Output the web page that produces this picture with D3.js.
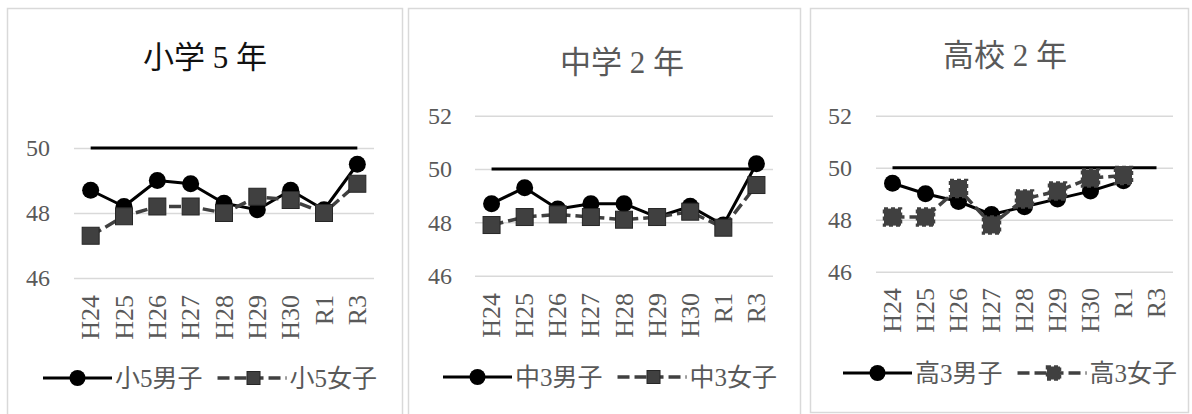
<!DOCTYPE html>
<html><head><meta charset="utf-8">
<script src="https://cdn.jsdelivr.net/npm/d3@7"></script>
<style>
html,body{margin:0;padding:0;background:#fff;}
svg{display:block;}
text{font-family:"Liberation Serif","Noto Sans CJK JP",serif;}
</style></head>
<body>
<svg id="c" width="1192" height="414"></svg>
<script>
// ---- data ----
const categories = ["H24","H25","H26","H27","H28","H29","H30","R1","R3"];
const titles = ["小学 5 年", "中学 2 年", "高校 2 年"];
const boyNames = ["小5男子", "中3男子", "高3男子"];
const girlNames = ["小5女子", "中3女子", "高3女子"];
const elemBoys  = [48.7, 48.2, 49.0, 48.9, 48.3, 48.1, 48.7, 48.1, 49.5];
const elemGirls = [47.3, 47.9, 48.2, 48.2, 48.0, 48.5, 48.4, 48.0, 48.9];
const midBoys   = [48.7, 49.3, 48.5, 48.7, 48.7, 48.2, 48.6, 47.9, 50.2];
const midGirls  = [47.9, 48.2, 48.3, 48.2, 48.1, 48.2, 48.4, 47.8, 49.4];
const highBoys  = [49.4, 49.0, 48.7, 48.2, 48.5, 48.8, 49.1, 49.5, null];
const highGirls = [48.1, 48.1, 49.2, 47.8, 48.8, 49.1, 49.6, 49.7, null];
const nationalAvg = [50, 50, 50, 50, 50, 50, 50, 50, 50];
const ticksElem = [46, 48, 50];
const ticksOther = [46, 48, 50, 52];

// ---- layout ----
const layout = [
  {bx0:7,  bx1:402,  by0:8, by1:430, px0:74,  px1:374,  yTop:148,   yBot:278,   dom:[46,50], ticks:ticksElem, labRight:50,  xLabTop:295,
   titleX:205, titleY:57, titleColor:"#111", legY:378, legX:43, boys:elemBoys, girls:elemGirls, dashedMarker:false},
  {bx0:408,bx1:800,  by0:8, by1:430, px0:475, px1:773,  yTop:115.7, yBot:275.7, dom:[46,52], ticks:ticksOther, labRight:452, xLabTop:293,
   titleX:622, titleY:62, titleColor:"#595959", legY:377, legX:443, boys:midBoys, girls:midGirls, dashedMarker:false},
  {bx0:810,bx1:1188, by0:8, by1:412, px0:876, px1:1173, yTop:115.7, yBot:271.7, dom:[46,52], ticks:ticksOther, labRight:852, xLabTop:288,
   titleX:1005, titleY:55, titleColor:"#595959", legY:373, legX:843, boys:highBoys, girls:highGirls, dashedMarker:true}
];

const svg = d3.select("#c");
const GRAY = "#595959", GIRL = "#404040";

function squareMarker(g, x, y, s, dashed){
  g.append("rect").attr("x", x - s/2).attr("y", y - s/2).attr("width", s).attr("height", s)
    .attr("fill", GIRL).attr("stroke", dashed ? GIRL : "#262626")
    .attr("stroke-width", dashed ? 2.5 : 1)
    .attr("stroke-dasharray", dashed ? "4,3" : null);
}

layout.forEach((L, i) => {
  const g = svg.append("g");
  // border
  g.append("rect").attr("x", L.bx0 + 0.5).attr("y", L.by0 + 0.5)
    .attr("width", L.bx1 - L.bx0).attr("height", L.by1 - L.by0)
    .attr("fill", "#fff").attr("stroke", "#d9d9d9").attr("stroke-width", 1.5);

  const x = d3.scaleBand().domain(categories).range([L.px0, L.px1]);
  const y = d3.scaleLinear().domain(L.dom).range([L.yBot, L.yTop]);
  const cx = c => x(c) + x.bandwidth()/2;

  // title
  g.append("text").attr("x", L.titleX).attr("y", L.titleY).attr("dy", "0.36em")
    .attr("text-anchor", "middle").attr("font-size", 31).attr("fill", L.titleColor).text(titles[i]);

  // gridlines + y tick labels
  const yAxis = d3.axisLeft(y).tickValues(L.ticks).tickFormat(d3.format("d"))
    .tickSize(-(L.px1 - L.px0)).tickPadding(L.px0 - L.labRight);
  const ya = g.append("g").attr("transform", `translate(${L.px0},0)`).call(yAxis);
  ya.select(".domain").remove();
  ya.selectAll(".tick line").attr("stroke", "#d9d9d9").attr("stroke-width", 1.5);
  ya.selectAll(".tick text").attr("font-size", 24).attr("fill", GRAY)
    .attr("font-family", "Liberation Serif, serif");

  // x axis labels (rotated)
  const xAxis = d3.axisBottom(x).tickSize(0).tickPadding(0);
  const xa = g.append("g").attr("transform", `translate(0,${L.xLabTop})`).call(xAxis);
  xa.select(".domain").remove();
  xa.selectAll(".tick text").attr("font-size", 26).attr("fill", GRAY)
    .attr("font-family", "Liberation Serif, serif")
    .attr("transform", "rotate(-90)").attr("text-anchor", "end")
    .attr("x", 0).attr("y", 0).attr("dy", "0.33em");

  const line = d3.line().defined(d => d.v != null).x(d => cx(d.c)).y(d => y(d.v));
  const pts = arr => categories.map((c, k) => ({c, v: arr[k]}));

  // national average line
  g.append("path").datum(pts(nationalAvg)).attr("d", line)
    .attr("fill", "none").attr("stroke", "#000").attr("stroke-width", 3);

  // boys
  g.append("path").datum(pts(L.boys)).attr("d", line)
    .attr("fill", "none").attr("stroke", "#000").attr("stroke-width", 3).attr("stroke-linejoin", "round");
  g.selectAll(".boy").data(pts(L.boys).filter(d => d.v != null)).enter().append("circle")
    .attr("cx", d => cx(d.c)).attr("cy", d => y(d.v)).attr("r", 8.5).attr("fill", "#000");

  // girls
  g.append("path").datum(pts(L.girls)).attr("d", line)
    .attr("fill", "none").attr("stroke", GIRL).attr("stroke-width", 3.5).attr("stroke-dasharray", "12,5");
  pts(L.girls).filter(d => d.v != null).forEach(d => squareMarker(g, cx(d.c), y(d.v), 17, L.dashedMarker));

  // legend
  const lg = g.append("g");
  let lx = L.legX;
  lg.append("line").attr("x1", lx).attr("x2", lx + 69).attr("y1", L.legY).attr("y2", L.legY)
    .attr("stroke", "#000").attr("stroke-width", 3);
  lg.append("circle").attr("cx", lx + 34.5).attr("cy", L.legY).attr("r", 8).attr("fill", "#000");
  const t1 = lg.append("text").attr("x", lx + 72).attr("y", L.legY).attr("dy", "0.36em")
    .attr("font-size", 25).attr("fill", GRAY).text(boyNames[i]);
  lx = lx + 72 + t1.node().getComputedTextLength() + 15;
  lg.append("line").attr("x1", lx).attr("x2", lx + 69).attr("y1", L.legY).attr("y2", L.legY)
    .attr("stroke", GIRL).attr("stroke-width", 3.5).attr("stroke-dasharray", "12,5");
  squareMarker(lg, lx + 36, L.legY, 13, L.dashedMarker);
  lg.append("text").attr("x", lx + 72).attr("y", L.legY).attr("dy", "0.36em")
    .attr("font-size", 25).attr("fill", GRAY).text(girlNames[i]);
});
</script>
</body></html>
